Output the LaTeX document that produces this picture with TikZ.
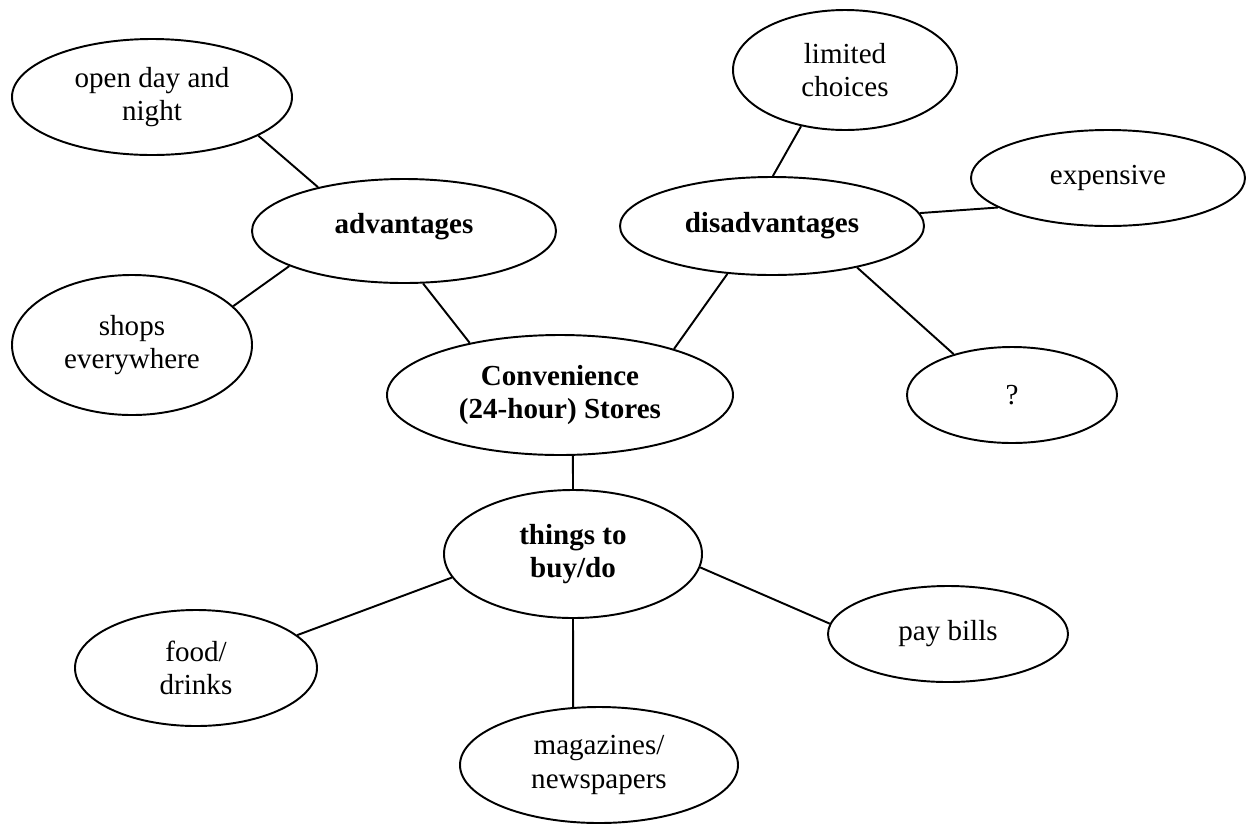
\documentclass[tikz,border=0pt]{standalone}
\usepackage{fontspec}
\setmainfont{Liberation Serif}
\usetikzlibrary{shapes.geometric}

\tikzset{
	bubble/.style={ellipse, draw, line width=0.8pt, inner sep=0pt, align=center,
		font=\fontsize{12}{13.8}\selectfont},
	hub/.style={bubble, font=\fontsize{12}{13.8}\selectfont\bfseries},
	dims/.style 2 args={minimum width=#1*0.413pt, minimum height=#2*0.413pt},
	link/.style={line width=0.8pt}
}

\begin{document}
\begin{tikzpicture}[x=0.413pt, y=-0.413pt]
	\useasboundingbox (0,0) rectangle (1246,825);
	% centre and topics
	\node[hub, dims={346}{120}] (stores) at (560,395) {Convenience\\(24-hour) Stores};
	\node[hub, dims={304}{104}, text depth=6pt] (adv) at (404,231) {advantages};
	\node[hub, dims={304}{98}] (disadv) at (772,226) {disadvantages};
	\node[hub, dims={258}{128}] (buy) at (573,554) {things to\\buy/do};
	% leaves
	\node[bubble, dims={280}{116}] (open) at (152,97) {open day and\\night};
	\node[bubble, dims={240}{140}] (shops) at (132,345) {shops\\everywhere};
	\node[bubble, dims={224}{120}] (limited) at (845,70) {limited\\choices};
	\node[bubble, dims={274}{96}] (expensive) at (1108,178) {expensive};
	\node[bubble, dims={210}{96}] (unknown) at (1012,395) {?};
	\node[bubble, dims={242}{116}] (food) at (196,668) {food/\\drinks};
	\node[bubble, dims={278}{116}] (mags) at (599,765) {magazines/\\newspapers};
	\node[bubble, dims={240}{96}] (bills) at (948,634) {pay bills};
	\path[link]
	(adv.153) edge (open.-20)
	(adv.197) edge (shops.21)
	(adv.-70) edge (stores.150)
	(disadv.89) edge (limited.232)
	(disadv.5) edge (expensive.195)
	(disadv.-26) edge (unknown.145)
	(disadv.227) edge (stores.22)
	(stores.-78) edge (buy.north)
	(buy.191) edge (food.18)
	(buy.south) edge (mags.114)
	(buy.-6) edge (bills.175);
\end{tikzpicture}
\end{document}
